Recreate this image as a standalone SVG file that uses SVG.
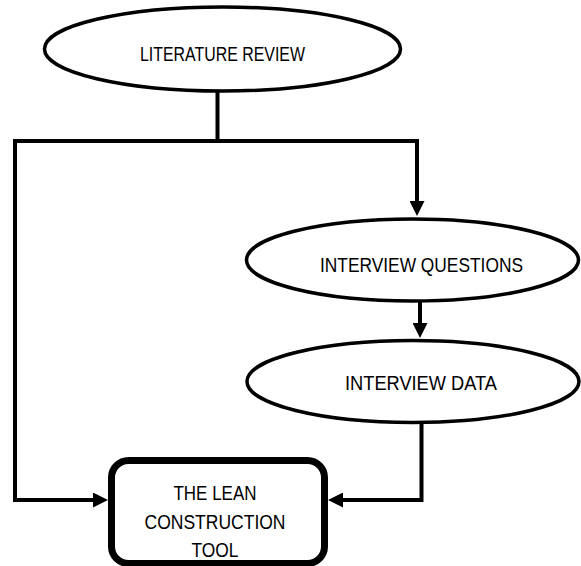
<svg xmlns="http://www.w3.org/2000/svg" width="581" height="566" viewBox="0 0 581 566">
  <style>
    .oval { fill: #ffffff; stroke: #000000; stroke-width: 3.5; }
    .box { fill: #ffffff; stroke: #000000; stroke-width: 7; }
    .wire { fill: none; stroke: #000000; stroke-width: 4; stroke-linejoin: miter; }
    .label { font-family: "Liberation Sans", Arial, sans-serif; font-size: 19.5px; fill: #000000; text-anchor: middle; }
  </style>
  <defs>
    <marker id="head" markerUnits="userSpaceOnUse" markerWidth="15" markerHeight="15" refX="0" refY="7.5" orient="auto">
      <path d="M0,0 L15,7.5 L0,15 Z" fill="#000000"/>
    </marker>
  </defs>

  <g id="connectors">
    <path class="wire" d="M217.5,92 V141 H15 V500 H93" marker-end="url(#head)"/>
    <path class="wire" d="M217.5,141 H417 V201" marker-end="url(#head)"/>
    <path class="wire" d="M420,302 V323" marker-end="url(#head)"/>
    <path class="wire" d="M421.5,423 V500 H343" marker-end="url(#head)"/>
  </g>

  <g id="literature-review">
    <ellipse class="oval" cx="222.5" cy="49" rx="178" ry="42"/>
    <text class="label" x="222.5" y="61" textLength="165" lengthAdjust="spacingAndGlyphs">LITERATURE REVIEW</text>
  </g>

  <g id="interview-questions">
    <ellipse class="oval" cx="412.5" cy="260" rx="166" ry="41"/>
    <text class="label" x="421.5" y="272" textLength="203" lengthAdjust="spacingAndGlyphs">INTERVIEW QUESTIONS</text>
  </g>

  <g id="interview-data">
    <ellipse class="oval" cx="413" cy="381.5" rx="166" ry="41"/>
    <text class="label" x="421" y="390" textLength="152" lengthAdjust="spacingAndGlyphs">INTERVIEW DATA</text>
  </g>

  <g id="lean-construction-tool">
    <rect class="box" x="111.5" y="460.5" width="213" height="103" rx="17"/>
    <text class="label" x="215" y="500" textLength="83" lengthAdjust="spacingAndGlyphs">THE LEAN</text>
    <text class="label" x="215" y="529" textLength="141" lengthAdjust="spacingAndGlyphs">CONSTRUCTION</text>
    <text class="label" x="215" y="557" textLength="47" lengthAdjust="spacingAndGlyphs">TOOL</text>
  </g>
</svg>
